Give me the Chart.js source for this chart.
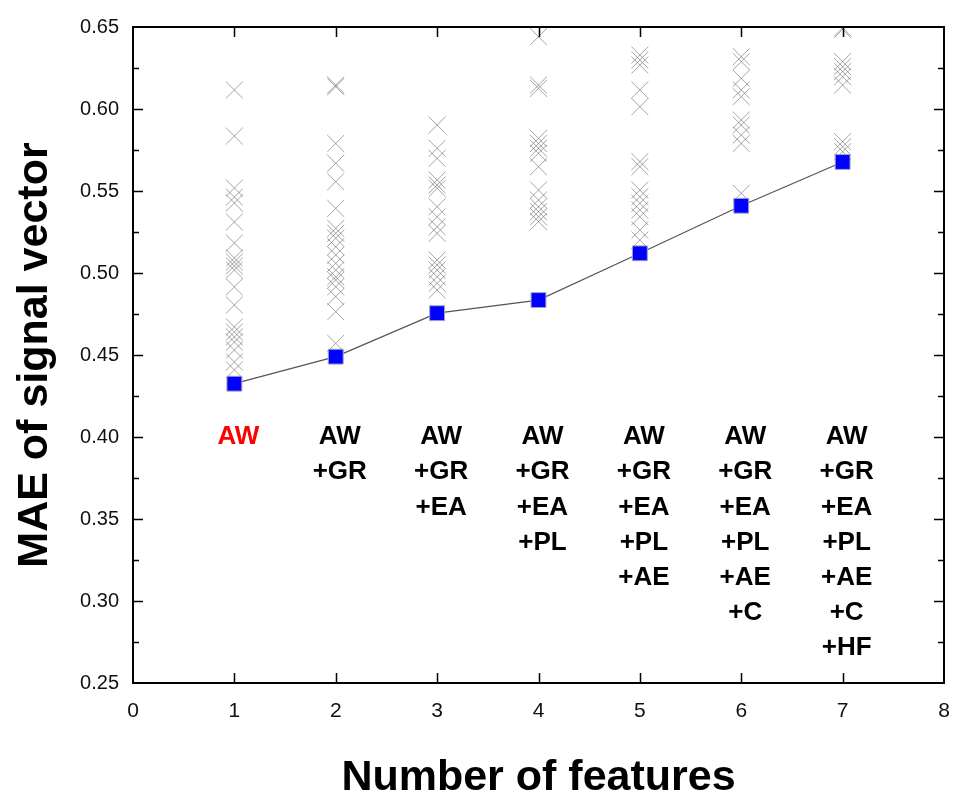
<!DOCTYPE html>
<html>
<head>
<meta charset="utf-8">
<script src="https://cdn.jsdelivr.net/npm/chart.js@4"></script>
<style>
  html, body { margin: 0; padding: 0; background: #fff; overflow: hidden; }
  #wrap { width: 957px; height: 794px; position: relative; }
  #maechart { display: block; }
</style>
</head>
<body>
<div id="wrap"><canvas id="maechart"></canvas></div>
<script>
// number of features on x, MAE on y
const featureCounts = [1, 2, 3, 4, 5, 6, 7];
const bestMae = [0.4325, 0.449, 0.4755, 0.4835, 0.512, 0.541, 0.5677];

// all feature combinations tried for each count (grey crosses)
const maeN1 = [0.6116, 0.5835, 0.5518, 0.5463, 0.5427, 0.5311, 0.5183, 0.5091, 0.5067, 0.5043,
               0.5018, 0.4915, 0.4805, 0.4671, 0.4640, 0.4610, 0.4579, 0.4530, 0.4457, 0.4409];
const maeN2 = [0.6146, 0.6136, 0.5790, 0.5669, 0.5557, 0.5394, 0.5272, 0.5242, 0.5212, 0.5160,
               0.5110, 0.5059, 0.5018, 0.4977, 0.4957, 0.4916, 0.4856, 0.4764, 0.4571];
const maeN3 = [0.5902, 0.5760, 0.5699, 0.5567, 0.5537, 0.5516, 0.5404, 0.5343, 0.5282, 0.5242,
               0.5079, 0.5049, 0.5018, 0.4977, 0.4937, 0.4896];
const maeN4 = [0.6441, 0.6146, 0.6126, 0.5821, 0.5790, 0.5760, 0.5730, 0.5648, 0.5506, 0.5445,
               0.5404, 0.5374, 0.5343, 0.5313];
const maeN5 = [0.6329, 0.6299, 0.6268, 0.6116, 0.6014, 0.5679, 0.5648, 0.5506, 0.5465, 0.5425,
               0.5384, 0.5343, 0.5262, 0.5201];
const maeN6 = [0.6319, 0.6289, 0.6187, 0.6116, 0.6075, 0.5933, 0.5902, 0.5841, 0.5790, 0.5486];
const maeN7 = [0.6495, 0.6485, 0.6289, 0.6258, 0.6228, 0.6197, 0.6146, 0.5801, 0.5770, 0.5740];
const allMae = [maeN1, maeN2, maeN3, maeN4, maeN5, maeN6, maeN7];

const featureLabels = [
  ['AW'],
  ['AW', '+GR'],
  ['AW', '+GR', '+EA'],
  ['AW', '+GR', '+EA', '+PL'],
  ['AW', '+GR', '+EA', '+PL', '+AE'],
  ['AW', '+GR', '+EA', '+PL', '+AE', '+C'],
  ['AW', '+GR', '+EA', '+PL', '+AE', '+C', '+HF']
];

const crossPoints = [];
allMae.forEach(function (vals, i) {
  vals.forEach(function (v) {
    crossPoints.push({ x: featureCounts[i], y: v });
  });
});
const bestPoints = featureCounts.map(function (n, i) { return { x: n, y: bestMae[i] }; });

const FONT = 'Liberation Sans, Arial, Helvetica, sans-serif';

// box with inward ticks on all four sides
const framePlugin = {
  id: 'frame',
  afterDatasetsDraw(chart) {
    const ctx = chart.ctx;
    const a = chart.chartArea;
    const xs = chart.scales.x, ys = chart.scales.y;
    ctx.save();
    ctx.strokeStyle = '#000';
    ctx.lineWidth = 1.5;
    ctx.beginPath();
    for (let v = 1; v < 8; v++) {
      const px = Math.round(xs.getPixelForValue(v)) + 0.5;
      ctx.moveTo(px, a.bottom); ctx.lineTo(px, a.bottom - 10);
      ctx.moveTo(px, a.top); ctx.lineTo(px, a.top + 10);
    }
    for (let k = 1; k < 16; k++) {
      const v = 0.25 + k * 0.025;
      const len = k % 2 === 0 ? 10 : 6;
      const py = Math.round(ys.getPixelForValue(v)) + 0.5;
      ctx.moveTo(a.left, py); ctx.lineTo(a.left + len, py);
      ctx.moveTo(a.right, py); ctx.lineTo(a.right - len, py);
    }
    ctx.stroke();
    ctx.lineWidth = 2;
    ctx.strokeRect(a.left, a.top, a.right - a.left, a.bottom - a.top);
    ctx.restore();
  }
};

// stacked feature names under each column
const labelPlugin = {
  id: 'featureText',
  afterDatasetsDraw(chart) {
    const ctx = chart.ctx;
    const xs = chart.scales.x, ys = chart.scales.y;
    ctx.save();
    ctx.font = 'bold 26px ' + FONT;
    ctx.textAlign = 'center';
    ctx.textBaseline = 'middle';
    const top = ys.getPixelForValue(0.40);
    featureLabels.forEach(function (lines, i) {
      const cx = xs.getPixelForValue(featureCounts[i]) + 4;
      lines.forEach(function (t, j) {
        ctx.fillStyle = i === 0 ? '#ff0000' : '#000';
        ctx.fillText(t, cx, top + j * 35.2);
      });
    });
    ctx.restore();
  }
};

const ctx = document.getElementById('maechart').getContext('2d');
const maeChart = new Chart(ctx, {
  type: 'scatter',
  data: {
    datasets: [{
      label: 'best',
      data: bestPoints,
      showLine: true,
      borderColor: '#555',
      borderWidth: 1.2,
      pointStyle: 'rect',
      pointRadius: 10.5,
      pointBackgroundColor: '#0000ff',
      pointBorderColor: '#a0a0c8',
      pointBorderWidth: 1,
      order: 0
    }, {
      label: 'all',
      data: crossPoints,
      showLine: false,
      pointStyle: 'crossRot',
      pointRadius: 12,
      pointBorderColor: 'rgba(110,110,110,0.62)',
      pointBorderWidth: 1,
      order: 1
    }]
  },
  options: {
    responsive: true,
    maintainAspectRatio: false,
    animation: false,
    layout: { padding: { top: 27, right: 9, left: 0, bottom: 0 } },
    plugins: {
      legend: { display: false },
      tooltip: { enabled: false }
    },
    scales: {
      x: {
        type: 'linear',
        min: 0, max: 8,
        grid: { display: false, drawTicks: false },
        border: { display: false },
        ticks: { stepSize: 1, padding: 16, color: '#111', font: { family: FONT, size: 21 } },
        title: {
          display: true, text: 'Number of features', color: '#000',
          font: { family: FONT, size: 43, weight: 'bold', lineHeight: 0.7 },
          padding: { top: 0, bottom: 0.5 }
        },
        afterFit(scale) {
          scale.height = 111;
          scale.paddingRight = 0;
          scale.paddingLeft = 0;
        }
      },
      y: {
        type: 'linear',
        min: 0.25, max: 0.65,
        grid: { display: false, drawTicks: false },
        border: { display: false },
        ticks: {
          stepSize: 0.05, padding: 14, color: '#111',
          font: { family: FONT, size: 20 },
          callback: function (v) { return v.toFixed(2); }
        },
        title: {
          display: true, text: 'MAE of signal vector', color: '#000',
          font: { family: FONT, size: 43, weight: 'bold', lineHeight: 1 },
          padding: { top: 14, bottom: 0 }
        },
        afterFit(scale) { scale.width = 133; }
      }
    }
  },
  plugins: [framePlugin, labelPlugin]
});
</script>
</body>
</html>
